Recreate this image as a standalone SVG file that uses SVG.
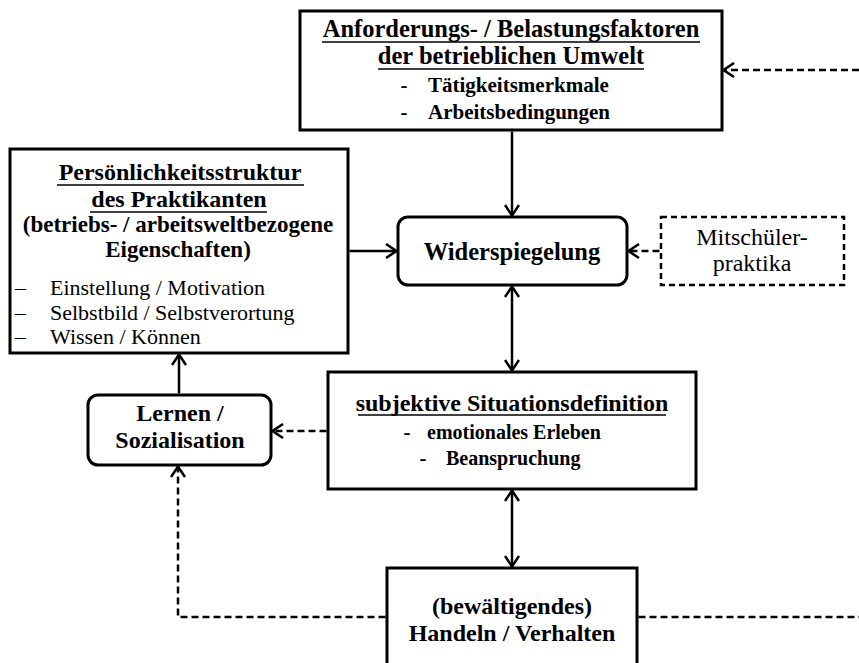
<svg xmlns="http://www.w3.org/2000/svg" width="859" height="663" viewBox="0 0 859 663">
  <style>
    .box { fill: #fff; stroke: #000; stroke-width: 3; }
    .dbox { fill: #fff; stroke: #000; stroke-width: 2.5; stroke-dasharray: 6 4; }
    .ln { fill: none; stroke: #000; stroke-width: 2.5; }
    .dash { stroke-dasharray: 7 4; }
    .ul { stroke: #000; stroke-width: 1.6; }
    text { font-family: "Liberation Serif", "Times New Roman", serif; fill: #000; }
    .b { font-weight: bold; font-size: 24px; }
    .s { font-weight: bold; font-size: 21px; }
    .r { font-weight: normal; font-size: 22px; }
    .c { text-anchor: middle; }
  </style>
  <defs>
    <marker id="ah" viewBox="0 0 13 16" refX="11.5" refY="8" markerWidth="13" markerHeight="16" markerUnits="userSpaceOnUse" orient="auto-start-reverse">
      <path d="M1,1 L11.5,8 L1,15" fill="none" stroke="#000" stroke-width="2.5"/>
    </marker>
  </defs>

  <rect width="859" height="663" fill="#fff"/>

  <!-- connectors -->
  <g id="connectors">
    <path class="ln" d="M512,131.5 L512,215.5" marker-end="url(#ah)"/>
    <path class="ln" d="M349.5,251 L396.5,251" marker-end="url(#ah)"/>
    <path class="ln dash" d="M659.5,251 L628.5,251" marker-end="url(#ah)"/>
    <path class="ln" d="M512,286.5 L512,370.5" marker-start="url(#ah)" marker-end="url(#ah)"/>
    <path class="ln" d="M512,490.5 L512,566.5" marker-start="url(#ah)" marker-end="url(#ah)"/>
    <path class="ln dash" d="M326.5,431 L272.5,431" marker-end="url(#ah)"/>
    <path class="ln" d="M179,393.5 L179,354.5" marker-end="url(#ah)"/>
    <path class="ln dash" d="M385.5,617 L178,617 L178,466.5" marker-end="url(#ah)"/>
    <path class="ln dash" d="M638.5,617 L859,617"/>
    <path class="ln dash" d="M859,70 L723.5,70" marker-end="url(#ah)"/>
  </g>

  <!-- demands of the workplace -->
  <g id="anforderungen">
    <rect class="box" x="300" y="11" width="422" height="119"/>
    <text class="b c" x="511" y="37" style="font-size:24.5px">Anforderungs- / Belastungsfaktoren</text>
    <line class="ul" x1="322" y1="42" x2="700" y2="42"/>
    <text class="b c" x="511" y="64" style="font-size:24.5px">der betrieblichen Umwelt</text>
    <line class="ul" x1="378" y1="69" x2="644" y2="69"/>
    <text class="s c" x="404" y="92">-</text>
    <text class="s" x="428" y="92">Tätigkeitsmerkmale</text>
    <text class="s c" x="404" y="119">-</text>
    <text class="s" x="428" y="119">Arbeitsbedingungen</text>
  </g>

  <!-- personality structure -->
  <g id="persoenlichkeit">
    <rect class="box" x="10" y="149" width="338" height="204"/>
    <text class="b c" x="180" y="180">Persönlichkeitsstruktur</text>
    <line class="ul" x1="57" y1="185" x2="304" y2="185"/>
    <text class="b c" x="179" y="207">des Praktikanten</text>
    <line class="ul" x1="90" y1="212" x2="267" y2="212"/>
    <text class="b c" x="178" y="232" style="font-size:23px">(betriebs- / arbeitsweltbezogene</text>
    <text class="b c" x="178" y="257" style="font-size:23px">Eigenschaften)</text>
    <text class="r" x="15" y="295">–</text>
    <text class="r" x="50" y="295">Einstellung / Motivation</text>
    <text class="r" x="15" y="320">–</text>
    <text class="r" x="50" y="320">Selbstbild / Selbstverortung</text>
    <text class="r" x="15" y="344">–</text>
    <text class="r" x="50" y="344">Wissen / Können</text>
  </g>

  <!-- reflection -->
  <g id="widerspiegelung">
    <rect class="box" x="398" y="217" width="229" height="68" rx="10" ry="10"/>
    <text class="b c" x="512" y="260" style="font-size:24.5px">Widerspiegelung</text>
  </g>

  <!-- classmates' internships -->
  <g id="mitschueler">
    <rect class="dbox" x="661" y="217" width="183" height="68"/>
    <text class="r c" x="752" y="245" style="font-size:24px">Mitschüler-</text>
    <text class="r c" x="752" y="271" style="font-size:24px">praktika</text>
  </g>

  <!-- subjective definition of the situation -->
  <g id="situationsdefinition">
    <rect class="box" x="328" y="372" width="368" height="117"/>
    <text class="b c" x="512" y="411">subjektive Situationsdefinition</text>
    <line class="ul" x1="358" y1="415" x2="666" y2="415"/>
    <text class="s c" x="407" y="439">-</text>
    <text class="s" x="427" y="439" style="font-size:20px">emotionales Erleben</text>
    <text class="s c" x="423" y="465">-</text>
    <text class="s" x="446" y="465" style="font-size:20px">Beanspruchung</text>
  </g>

  <!-- learning / socialisation -->
  <g id="lernen">
    <rect class="box" x="88" y="395" width="183" height="70" rx="10" ry="10"/>
    <text class="b c" x="180" y="421">Lernen /</text>
    <text class="b c" x="180" y="448">Sozialisation</text>
  </g>

  <!-- coping behaviour -->
  <g id="handeln">
    <rect class="box" x="387" y="568" width="250" height="110"/>
    <text class="b c" x="512" y="614">(bewältigendes)</text>
    <text class="b c" x="512" y="641">Handeln / Verhalten</text>
  </g>
</svg>
